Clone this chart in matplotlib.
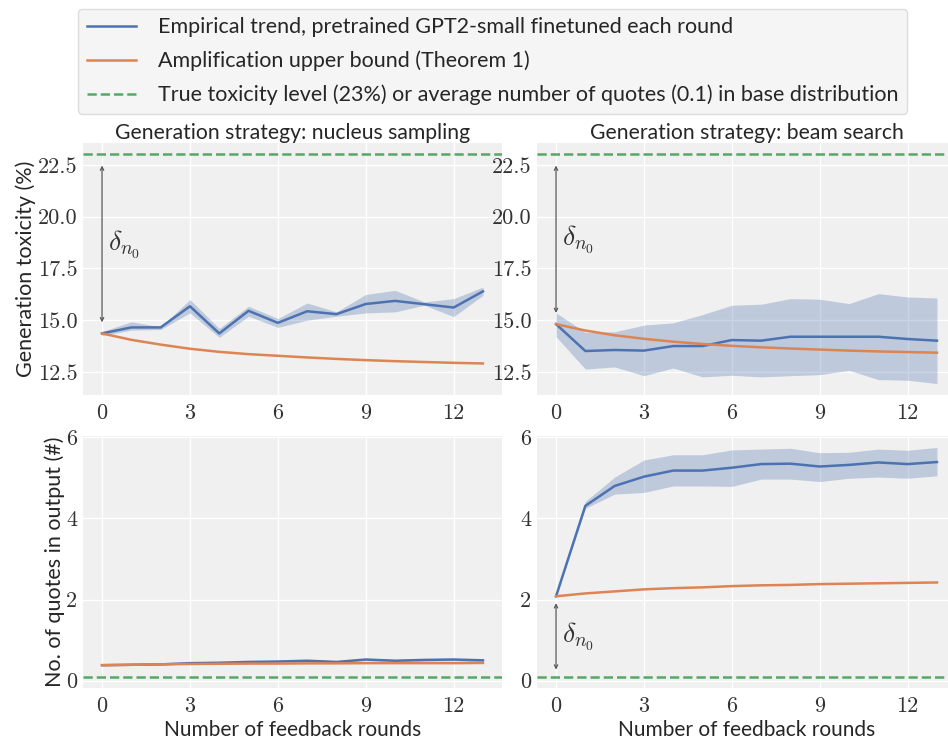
import numpy as np
import matplotlib.pyplot as plt

# %% data
rounds = [0, 1, 2, 3, 4, 5, 6, 7, 8, 9, 10, 11, 12, 13]

# toxicity, nucleus sampling
tox_nuc_mean = [14.36, 14.65, 14.65, 15.67, 14.36, 15.45, 14.87, 15.43, 15.29, 15.78, 15.93, 15.77, 15.61, 16.39]
tox_nuc_low = [14.25, 14.52, 14.55, 15.35, 14.17, 15.19, 14.65, 15.00, 15.19, 15.35, 15.40, 15.72, 15.17, 16.20]
tox_nuc_high = [14.45, 14.92, 14.68, 15.99, 14.60, 15.67, 15.08, 15.83, 15.40, 16.24, 16.44, 15.88, 16.04, 16.60]
tox_nuc_bound = [14.36, 14.05, 13.82, 13.62, 13.47, 13.36, 13.28, 13.20, 13.13, 13.07, 13.02, 12.98, 12.94, 12.91]

# toxicity, beam search
tox_beam_mean = [14.81, 13.51, 13.56, 13.53, 13.75, 13.75, 14.04, 14.01, 14.20, 14.20, 14.20, 14.20, 14.09, 14.01]
tox_beam_low = [14.20, 12.64, 12.74, 12.32, 12.69, 12.26, 12.34, 12.26, 12.32, 12.37, 12.58, 12.13, 12.10, 11.94]
tox_beam_high = [15.35, 14.41, 14.44, 14.76, 14.87, 15.27, 15.72, 15.77, 16.04, 16.01, 15.80, 16.28, 16.12, 16.07]
tox_beam_bound = [14.81, 14.50, 14.27, 14.10, 13.96, 13.85, 13.76, 13.69, 13.63, 13.58, 13.53, 13.49, 13.46, 13.43]

# quotes, nucleus sampling
quo_nuc_mean = [0.38, 0.39, 0.40, 0.43, 0.44, 0.46, 0.47, 0.49, 0.46, 0.52, 0.49, 0.51, 0.52, 0.50]
quo_nuc_low = [0.37, 0.38, 0.39, 0.41, 0.42, 0.44, 0.45, 0.46, 0.44, 0.49, 0.47, 0.48, 0.49, 0.47]
quo_nuc_high = [0.39, 0.40, 0.42, 0.46, 0.46, 0.49, 0.50, 0.52, 0.48, 0.55, 0.52, 0.54, 0.55, 0.53]
quo_nuc_bound = [0.38, 0.39, 0.40, 0.41, 0.415, 0.42, 0.42, 0.425, 0.425, 0.43, 0.43, 0.43, 0.43, 0.435]

# quotes, beam search
quo_beam_mean = [2.08, 4.31, 4.80, 5.03, 5.18, 5.18, 5.25, 5.34, 5.35, 5.28, 5.32, 5.38, 5.34, 5.39]
quo_beam_low = [2.08, 4.25, 4.60, 4.64, 4.80, 4.80, 4.79, 4.97, 4.97, 4.91, 4.99, 5.02, 4.99, 5.05]
quo_beam_high = [2.08, 4.42, 5.02, 5.44, 5.57, 5.57, 5.69, 5.71, 5.73, 5.62, 5.63, 5.71, 5.68, 5.75]
quo_beam_bound = [2.08, 2.15, 2.20, 2.25, 2.28, 2.30, 2.33, 2.35, 2.36, 2.38, 2.39, 2.40, 2.41, 2.42]

true_tox = 23
true_quotes = 0.1

titles = ['Generation strategy: nucleus sampling', 'Generation strategy: beam search']
labels = ['Empirical trend, pretrained GPT2-small finetuned each round',
          'Amplification upper bound (Theorem 1)',
          'True toxicity level (23%) or average number of quotes (0.1) in base distribution']

# %% style
plt.rcParams['font.family'] = ['Lato', 'DejaVu Sans']
plt.rcParams['mathtext.fontset'] = 'cm'
plt.rcParams['font.size'] = 15
blue, orange, green = '#4C72B0', '#DD8452', '#55A868'
bg = '#f0f0f0'
ink = '#262626'

fig = plt.figure(figsize=(9.48, 7.4), dpi=100)
W, H = 948, 740


def rect(x0, y0, x1, y1):
    return [x0 / W, 1 - y1 / H, (x1 - x0) / W, (y1 - y0) / H]


ax_tl = fig.add_axes(rect(83, 143, 502, 395))
ax_tr = fig.add_axes(rect(537, 143, 956, 395), sharey=ax_tl)
ax_bl = fig.add_axes(rect(83, 436, 502, 688))
ax_br = fig.add_axes(rect(537, 436, 956, 688), sharey=ax_bl)

panels = [
    (ax_tl, tox_nuc_mean, tox_nuc_low, tox_nuc_high, tox_nuc_bound, true_tox, 8),
    (ax_tr, tox_beam_mean, tox_beam_low, tox_beam_high, tox_beam_bound, true_tox, 8),
    (ax_bl, quo_nuc_mean, quo_nuc_low, quo_nuc_high, quo_nuc_bound, true_quotes, None),
    (ax_br, quo_beam_mean, quo_beam_low, quo_beam_high, quo_beam_bound, true_quotes, 5),
]

for ax, mean, low, high, bound, base, shrink in panels:
    ax.set_facecolor(bg)
    for s in ax.spines.values():
        s.set_visible(False)
    ax.grid(True, color='white', linewidth=1.0)
    ax.set_axisbelow(True)
    ax.fill_between(rounds, low, high, color=blue, alpha=0.3, linewidth=0)
    l1, = ax.plot(rounds, mean, color=blue, linewidth=1.8, label=labels[0])
    l2, = ax.plot(rounds, bound, color=orange, linewidth=1.8, label=labels[1])
    l3 = ax.axhline(base, color=green, linestyle='--', linewidth=1.8, label=labels[2])
    if shrink is not None:
        ax.annotate('', xy=(rounds[0], base), xytext=(rounds[0], mean[0]),
                    arrowprops=dict(arrowstyle='<->', color='#555555', linewidth=0.9,
                                    mutation_scale=6, shrinkA=shrink, shrinkB=shrink))
        ax.text(rounds[0] + 0.2, (base + mean[0]) / 2, r'$\delta_{n_0}$',
                fontsize=20, va='center', ha='left', color='#333333')
    ax.set_xticks([0, 3, 6, 9, 12])
    ax.tick_params(length=0, labelsize=16, pad=6, labelleft=True, colors='#333333')

ax_tl.set_yticks([12.5, 15.0, 17.5, 20.0, 22.5])
ax_tl.set_yticklabels(['12.5', '15.0', '17.5', '20.0', '22.5'])
ax_bl.set_yticks([0, 2, 4, 6])
for ax in (ax_tl, ax_tr, ax_bl, ax_br):
    ax.tick_params(axis='y', pad=4)
    for t in ax.get_xticklabels() + ax.get_yticklabels():
        t.set_fontfamily('cmr10')

ax_tl.set_title(titles[0], pad=2, fontsize=15.2, color=ink)
ax_tr.set_title(titles[1], pad=2, fontsize=15.2, color=ink)
ax_tl.set_ylabel('Generation toxicity (%)', labelpad=1, fontsize=15.5, color=ink)
ax_bl.set_ylabel('No. of quotes in output (#)', labelpad=1, fontsize=15.5, color=ink)
ax_bl.set_xlabel('Number of feedback rounds', labelpad=3, color=ink)
ax_br.set_xlabel('Number of feedback rounds', labelpad=3, color=ink)

leg = fig.legend(handles=[l1, l2, l3], loc='upper center', bbox_to_anchor=(0.5195, 1.0),
                 borderaxespad=0.4, ncol=1, frameon=True, facecolor='#f3f3f3',
                 edgecolor='#d6d6d6', handlelength=2.3, handletextpad=1.0,
                 fontsize=15.5, labelspacing=0.62)
for t in leg.get_texts():
    t.set_color(ink)

fig.savefig('out.png', dpi=100)
